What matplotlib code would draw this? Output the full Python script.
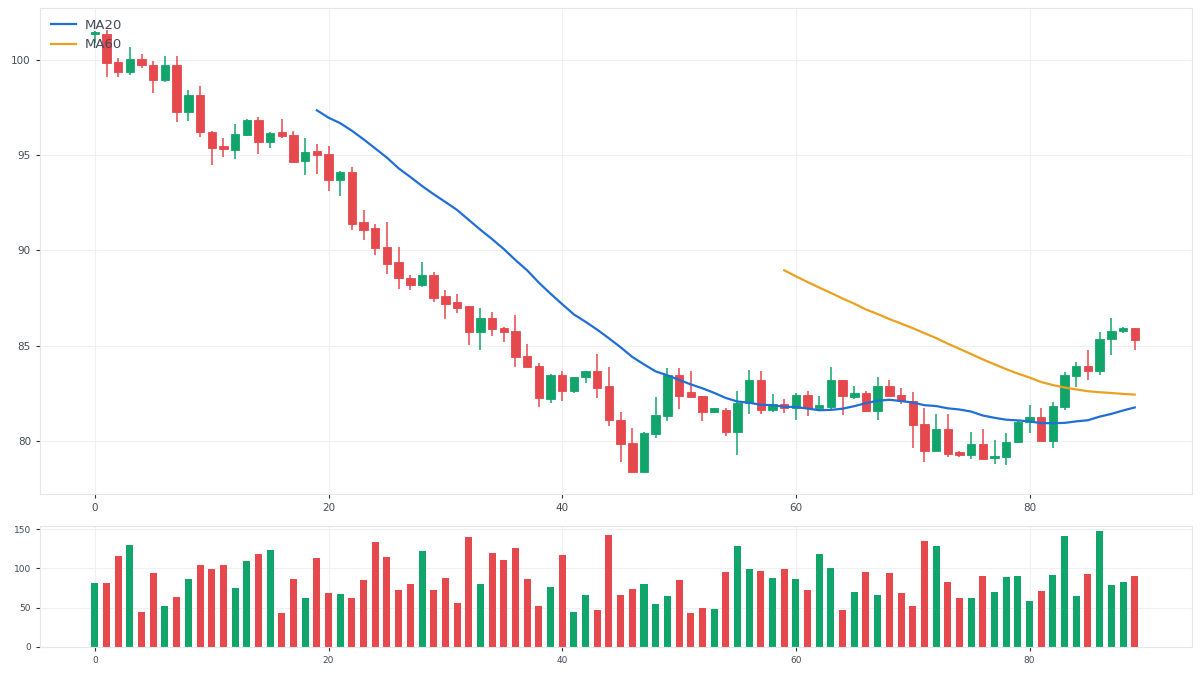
import numpy as np
import pandas as pd
import matplotlib
matplotlib.use('Agg')
import matplotlib.pyplot as plt

# OHLC, one value per candle
opens = [101.35, 101.35, 99.90, 99.33, 100.05, 99.74, 98.95, 99.74, 97.23, 98.16,
         96.22, 95.45, 95.28, 96.06, 96.81, 95.66, 96.22, 96.06, 94.66, 95.22,
         95.07, 93.67, 94.09, 91.46, 91.15, 90.15, 89.36, 88.57, 88.19, 88.71,
         87.58, 87.26, 87.05, 85.69, 86.47, 85.93, 85.79, 84.46, 83.95, 82.22,
         83.43, 82.64, 83.34, 83.64, 82.86, 81.10, 79.89, 78.37, 80.37, 81.33,
         83.43, 82.54, 82.36, 81.54, 81.63, 80.49, 81.98, 83.20, 81.63, 81.94,
         81.70, 82.41, 81.72, 81.77, 83.17, 82.29, 82.52, 81.57, 82.89, 82.41,
         82.11, 80.89, 79.49, 80.63, 79.44, 79.26, 79.84, 79.09, 79.14, 79.92,
         80.97, 81.26, 79.98, 81.80, 83.41, 83.94, 83.69, 85.34, 85.74, 85.91]
highs = [101.50, 101.55, 100.09, 100.67, 100.31, 99.91, 100.21, 100.21, 98.43, 98.64,
         96.27, 95.89, 96.64, 96.89, 96.99, 96.20, 96.90, 96.24, 95.89, 95.57,
         95.49, 94.17, 94.37, 92.09, 91.37, 91.46, 90.15, 88.68, 89.40, 88.86,
         87.93, 87.72, 87.10, 86.96, 86.77, 86.00, 86.58, 85.09, 84.08, 83.52,
         83.67, 83.36, 83.67, 84.57, 83.87, 81.50, 80.67, 80.45, 82.29, 83.82,
         83.82, 83.67, 82.38, 81.72, 81.72, 82.64, 83.73, 83.67, 82.47, 82.20,
         82.50, 82.64, 82.36, 83.90, 83.20, 82.89, 82.64, 83.34, 83.17, 82.77,
         82.55, 81.72, 81.42, 81.42, 79.47, 80.45, 80.63, 80.05, 80.40, 81.02,
         81.89, 81.72, 82.03, 83.61, 84.13, 84.78, 85.70, 86.44, 85.95, 85.93]
lows = [100.90, 99.09, 99.09, 99.20, 99.56, 98.25, 98.81, 96.71, 96.76, 95.94,
        94.49, 94.89, 94.80, 96.01, 95.07, 95.34, 95.89, 94.65, 93.93, 94.00,
        93.09, 92.83, 91.04, 90.52, 89.76, 88.77, 87.98, 87.93, 88.05, 87.31,
        86.40, 86.70, 85.04, 84.78, 85.48, 85.21, 83.87, 83.90, 81.80, 82.01,
        82.11, 82.50, 83.03, 82.27, 80.76, 78.91, 78.37, 78.37, 80.14, 81.02,
        81.66, 82.29, 81.02, 81.45, 80.28, 79.26, 81.42, 81.40, 81.54, 81.45,
        81.07, 81.31, 81.57, 81.63, 81.36, 82.19, 81.49, 81.10, 82.38, 81.94,
        79.62, 78.91, 79.45, 79.14, 79.18, 79.03, 79.05, 78.78, 78.74, 79.90,
        80.40, 79.98, 79.62, 81.63, 82.82, 83.17, 83.43, 84.48, 85.65, 84.78]
closes = [101.45, 99.85, 99.35, 100.05, 99.70, 98.95, 99.74, 97.23, 98.16, 96.18,
          95.34, 95.31, 96.12, 96.81, 95.66, 96.15, 96.01, 94.65, 95.17, 95.01,
          93.67, 94.09, 91.39, 91.08, 90.10, 89.29, 88.52, 88.19, 88.71, 87.52,
          87.19, 86.98, 85.69, 86.44, 85.88, 85.72, 84.41, 83.90, 82.24, 83.43,
          82.64, 83.36, 83.64, 82.80, 81.07, 79.86, 78.37, 80.40, 81.36, 83.43,
          82.36, 82.29, 81.54, 81.70, 80.49, 82.00, 83.20, 81.63, 81.93, 81.70,
          82.41, 81.72, 81.89, 83.17, 82.33, 82.50, 81.57, 82.89, 82.38, 82.07,
          80.84, 79.49, 80.63, 79.31, 79.26, 79.84, 79.05, 79.23, 79.93, 81.00,
          81.26, 79.98, 81.84, 83.46, 83.94, 83.69, 85.35, 85.77, 85.91, 85.30]
volumes = [81.8, 81.8, 116.1, 130.1, 44.9, 94.5, 52.5, 64.0, 86.4, 104.7,
           99.2, 104.7, 75.4, 109.7, 118.6, 123.7, 43.6, 86.9, 62.7, 113.6,
           69.1, 67.8, 62.7, 85.2, 133.9, 114.8, 72.9, 80.5, 122.5, 72.9,
           88.1, 56.4, 140.3, 80.5, 119.9, 111.0, 126.3, 86.9, 52.5, 76.7,
           117.4, 44.9, 66.5, 47.5, 142.8, 66.5, 74.2, 80.5, 55.1, 65.3,
           85.6, 43.6, 50.0, 48.7, 95.8, 128.8, 99.6, 97.0, 88.1, 99.6,
           86.9, 72.9, 118.6, 100.8, 47.5, 70.3, 95.8, 66.5, 94.5, 69.1,
           52.5, 135.2, 128.8, 83.1, 62.7, 62.7, 90.7, 70.3, 89.4, 90.7,
           58.9, 71.6, 91.9, 141.5, 65.3, 93.2, 147.9, 79.2, 83.1, 90.7]

df = pd.DataFrame({'Open': opens, 'High': highs, 'Low': lows,
                   'Close': closes, 'Volume': volumes})
df['MA20'] = df['Close'].rolling(20).mean()
df['MA60'] = df['Close'].rolling(60).mean()

UP = '#12a56b'
DOWN = '#e5484d'
GRID = '#eef0f3'
SPINE = '#e3e6ea'
TXT = '#444b55'

x = np.arange(len(df))
up = df['Close'] >= df['Open']
colors = np.where(up, UP, DOWN)

fig = plt.figure(figsize=(12, 6.75), dpi=100)
ax = fig.add_axes([0.0333, 0.2681, 0.96, 0.7200])
axv = fig.add_axes([0.0333, 0.0415, 0.96, 0.1793], sharex=ax)

# candles: wick + body
ax.vlines(x, df['Low'], df['High'], colors=colors, linewidth=1.1, zorder=2)
body_bottom = np.minimum(df['Open'], df['Close'])
body_height = np.maximum((df['Close'] - df['Open']).abs(), 0.05)
ax.bar(x, body_height, bottom=body_bottom, width=0.72, color=colors,
       edgecolor=colors, linewidth=0.6, zorder=3)

ax.plot(x, df['MA20'], color='#1f6fd6', linewidth=1.6, label='MA20', zorder=4)
ax.plot(x, df['MA60'], color='#e9a11f', linewidth=1.6, label='MA60', zorder=4)

ax.legend(loc='upper left', frameon=False, fontsize=9.5, labelcolor=TXT,
          handlelength=1.9, handletextpad=0.7, borderaxespad=0.4)

axv.bar(x, df['Volume'], width=0.6, color=colors, zorder=2)

for a, fs in ((ax, 7.5), (axv, 6.5)):
    a.grid(True, color=GRID, linewidth=0.8, zorder=0)
    a.set_axisbelow(True)
    for s in a.spines.values():
        s.set_color(SPINE)
    a.tick_params(labelsize=fs, colors=TXT, length=3, width=0.8)
    a.tick_params(axis='both', which='both', color='#333333')

# bars make the body edges sticky, so pad the price range by hand
lo, hi = df['Low'].min(), df['High'].max()
pad = 0.05 * (hi - lo)
ax.set_ylim(lo - pad, hi + pad)
ax.set_xlim(-4.7, 93.9)

ax.set_xticks([0, 20, 40, 60, 80])
ax.set_yticks([80, 85, 90, 95, 100])
axv.set_yticks([0, 50, 100, 150])
axv.set_ylim(0, 154)
ax.tick_params(labelbottom=True)

fig.savefig('out.png', dpi=100, facecolor='white')
